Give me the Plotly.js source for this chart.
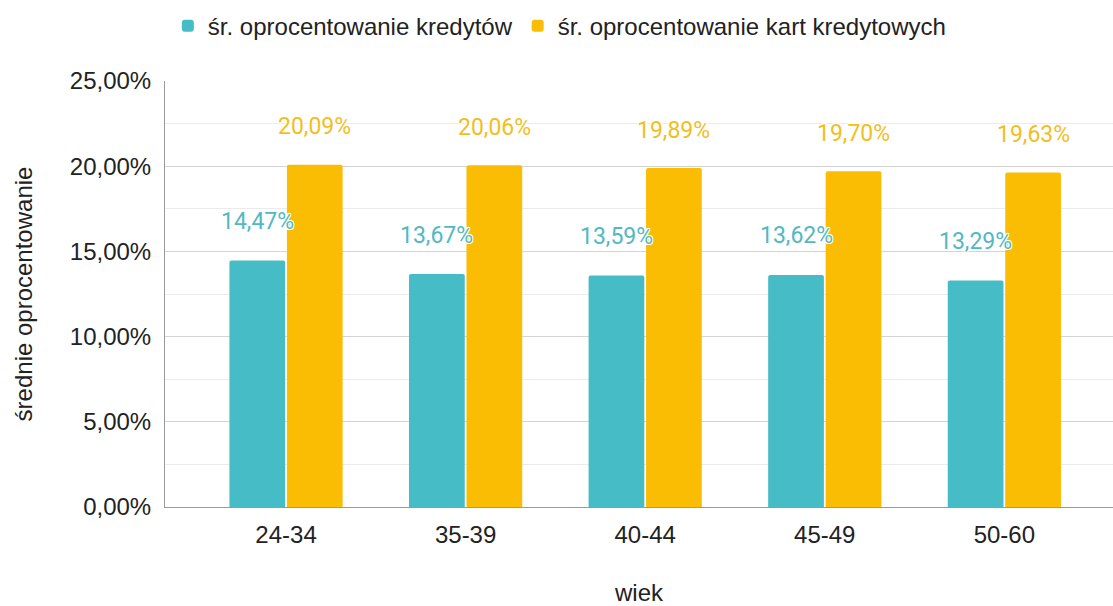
<!DOCTYPE html>
<html>
<head>
<meta charset="utf-8">
<script src="https://cdn.plot.ly/plotly-3.0.1.min.js"></script>
<style>html,body{margin:0;padding:0;background:#fff;}#chart{width:1113px;height:606px;}</style>
</head>
<body>
<div id="chart"></div>
<script>
var categories = ['24-34', '35-39', '40-44', '45-49', '50-60'];
var loanRates = [0.1447, 0.1367, 0.1359, 0.1362, 0.1329];
var cardRates = [0.2009, 0.2006, 0.1989, 0.1970, 0.1963];
var seriesNames = ['śr. oprocentowanie kredytów', 'śr. oprocentowanie kart kredytowych'];
var tealColor = '#46BDC6';
var yellowColor = '#FBBC04';

function fmt(v) { return (v * 100).toFixed(2).replace('.', ',') + '%'; }

var traces = [
  { type: 'bar', name: seriesNames[0], x: categories, y: loanRates,
    marker: { color: tealColor, cornerradius: 2 }, hoverinfo: 'none' },
  { type: 'bar', name: seriesNames[1], x: categories, y: cardRates,
    marker: { color: yellowColor, cornerradius: 2 }, hoverinfo: 'none' }
];

var halo = '1px 0 0 #fff, -1px 0 0 #fff, 0 1px 0 #fff, 0 -1px 0 #fff, 1px 1px 0 #fff, -1px -1px 0 #fff, 1px -1px 0 #fff, -1px 1px 0 #fff';
var annotations = [];
categories.forEach(function (c, i) {
  annotations.push({ x: i - 0.16, y: loanRates[i], xref: 'x', yref: 'y', text: fmt(loanRates[i]),
    showarrow: false, yshift: 39, yanchor: 'middle',
    font: { family: 'Roboto, sans-serif', size: 23, color: '#52B8C2', shadow: halo } });
  annotations.push({ x: i + 0.16, y: cardRates[i], xref: 'x', yref: 'y', text: fmt(cardRates[i]),
    showarrow: false, yshift: 38, yanchor: 'middle',
    font: { family: 'Roboto, sans-serif', size: 23, color: '#F2BE1E', shadow: halo } });
});

var layout = {
  width: 1113, height: 606,
  margin: { l: 165, r: 0, t: 81, b: 99 },
  paper_bgcolor: '#fff', plot_bgcolor: '#fff',
  separators: ', ',
  font: { family: 'Liberation Sans, Arial, sans-serif', size: 24, color: '#222' },
  barmode: 'group', bargap: 0.36, bargroupgap: 0.03,
  showlegend: true,
  legend: { orientation: 'h', xref: 'container', yref: 'container', x: 0.503, xanchor: 'center',
    y: 0.957, yanchor: 'middle', font: { size: 24, color: '#222' }, itemclick: false },
  xaxis: {
    type: 'category', range: [-0.674, 4.605], showgrid: false,
    showline: true, linecolor: '#999', linewidth: 1,
    ticks: 'outside', ticklen: 6, tickcolor: 'rgba(0,0,0,0)',
    tickfont: { size: 24, color: '#222' },
    title: { text: 'wiek', font: { size: 24, color: '#222' }, standoff: 44 },
    fixedrange: true
  },
  yaxis: {
    range: [0, 0.25], dtick: 0.05, tick0: 0, tickformat: '.2%',
    showgrid: true, gridcolor: '#d4d4d4', gridwidth: 1,
    minor: { dtick: 0.025, showgrid: true, gridcolor: '#ebebeb', gridwidth: 1 },
    showline: true, linecolor: '#999', linewidth: 1, zeroline: false,
    ticks: 'outside', ticklen: 8, tickcolor: 'rgba(0,0,0,0)',
    tickfont: { size: 24, color: '#222' },
    title: { text: 'średnie oprocentowanie', font: { size: 24, color: '#222' }, standoff: 30 },
    fixedrange: true
  },
  annotations: annotations
};

Plotly.newPlot('chart', traces, layout, { displayModeBar: false, staticPlot: true });
</script>
</body>
</html>
